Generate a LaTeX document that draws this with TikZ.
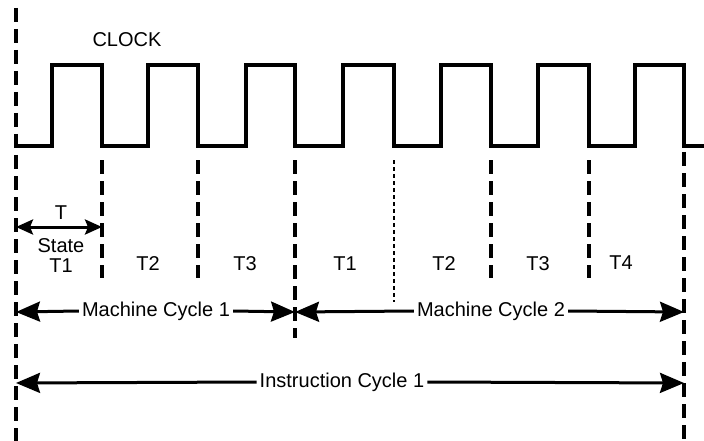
\documentclass[tikz,border=0pt]{standalone}
\usepackage{fontspec}
\setmainfont{Liberation Sans}
\usetikzlibrary{arrows.meta}
\begin{document}
\begin{tikzpicture}[x=1pt,y=-1pt,
  wave/.style={line width=3.2pt, line join=miter},
  guide/.style={line width=3.2pt, dash pattern=on 14pt off 7pt},
  fineguide/.style={line width=1.8pt, dash pattern=on 4pt off 3pt},
  lbl/.style={font=\fontsize{20}{22}\selectfont, inner sep=3pt},
  cyc/.style={line width=3pt, -{Stealth[length=24pt,width=20pt,inset=3pt]}},
  tarr/.style={line width=3pt, {Stealth[length=17pt,width=15pt,inset=3pt]}-{Stealth[length=17pt,width=15pt,inset=3pt]}}
  ]
\useasboundingbox (0,0) rectangle (704,441);
% guide lines
\draw[guide] (16,8) coordinate (g0t) -- (16,441) coordinate (g0b);
\draw[guide] (102,160) coordinate (g1t) -- (102,278) coordinate (g1b);
\draw[guide] (198,160) coordinate (g2t) -- (198,278) coordinate (g2b);
\draw[guide] (295,160) coordinate (g3t) -- (295,338) coordinate (g3b);
\draw[fineguide] (394,160) coordinate (g4t) -- (394,302) coordinate (g4b);
\draw[guide] (491,160) coordinate (g5t) -- (491,278) coordinate (g5b);
\draw[guide] (589,160) coordinate (g6t) -- (589,278) coordinate (g6b);
\draw[guide] (684,152) coordinate (g7t) -- (684,441) coordinate (g7b);
% clock
\node[lbl] (clk) at (127,40) {CLOCK};
\draw[wave] (16,146) -| (52,65) -| (102,146) -| (148,65) -| (198,146)
  -| (246,65) -| (295,146) -| (343,65) -| (394,146) -| (441,65) -| (491,146)
  -| (538,65) -| (589,146) -| (635,65) -| (684,146) -- (704,146);
% T state
\coordinate (ta) at (16,227);
\coordinate (tb) at (102,227);
\draw[tarr] (ta) -- (tb);
\node[lbl] (tt) at (61,213) {T};
\node[lbl] (st) at (61,246) {State};
\node[lbl] (s1) at (61,266) {T1};
\node[lbl] (s2) at (148,264) {T2};
\node[lbl] (s3) at (245,264) {T3};
\node[lbl] (s4) at (345,264) {T1};
\node[lbl] (s5) at (444,264) {T2};
\node[lbl] (s6) at (538,264) {T3};
\node[lbl] (s7) at (621,263) {T4};
% machine cycles
\coordinate (m0) at (16,312);
\coordinate (m1) at (295,312);
\coordinate (m2) at (684,312);
\node[lbl] (mc1) at (156,311) {Machine Cycle 1};
\node[lbl] (mc2) at (491,311) {Machine Cycle 2};
\draw[cyc] (mc1.west) -- (m0);
\draw[cyc] (mc1.east) -- (m1);
\draw[cyc] (mc2.west) -- (m1);
\draw[cyc] (mc2.east) -- (m2);
% instruction cycle
\coordinate (i0) at (16,383);
\coordinate (i1) at (684,383);
\node[lbl] (ic) at (342,382) {Instruction Cycle 1};
\draw[cyc] (ic.west) -- (i0);
\draw[cyc] (ic.east) -- (i1);
\end{tikzpicture}
\end{document}
